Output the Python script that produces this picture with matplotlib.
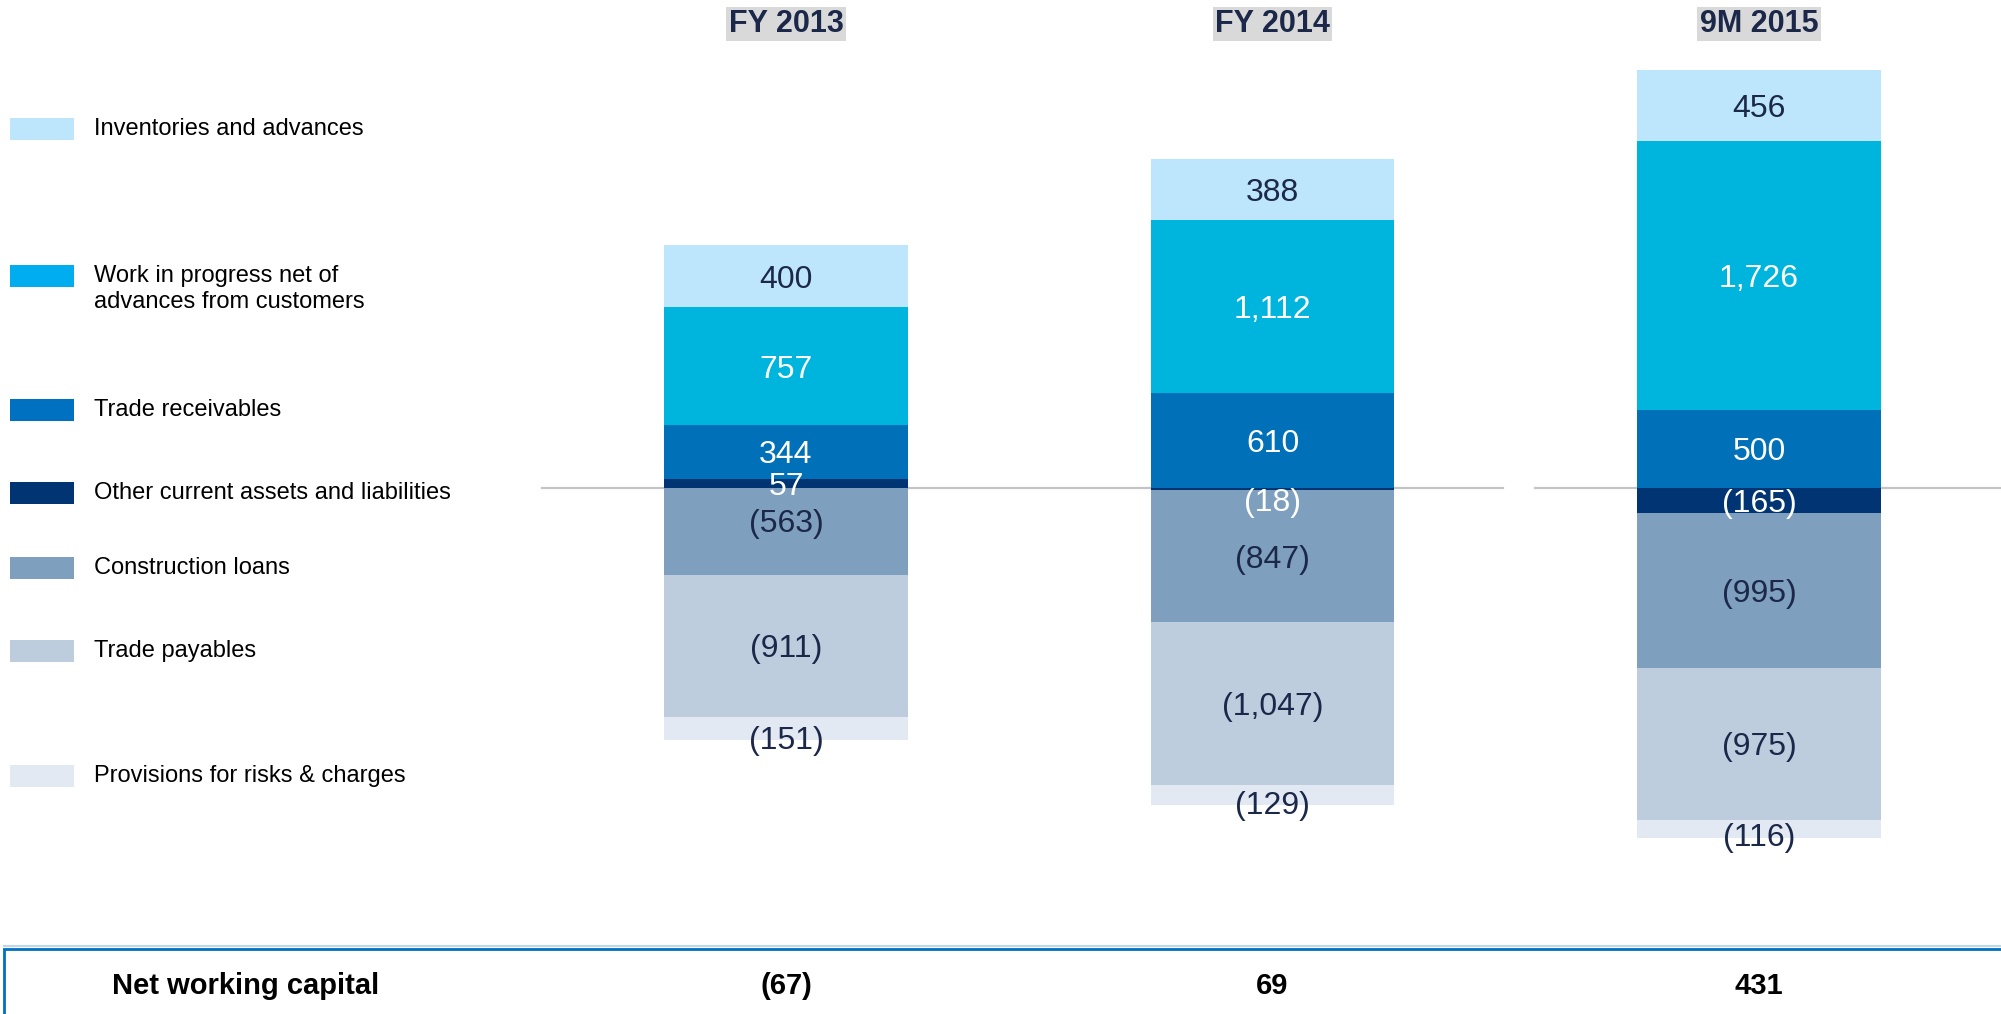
import matplotlib
matplotlib.use("Agg")
import matplotlib.pyplot as plt
from matplotlib.patches import Rectangle

plt.rcParams['font.family'] = ['Liberation Sans', 'DejaVu Sans']

# working capital components, EUR m
periods = ["FY 2013", "FY 2014", "9M 2015"]
inventories = [400, 388, 456]
wip = [757, 1112, 1726]
receivables = [344, 610, 500]
other_current = [57, -18, -165]
construction_loans = [-563, -847, -995]
trade_payables = [-911, -1047, -975]
provisions = [-151, -129, -116]
net_working_capital = [-67, 69, 431]

names = ["Inventories and advances",
         "Work in progress net of\nadvances from customers",
         "Trade receivables",
         "Other current assets and liabilities",
         "Construction loans",
         "Trade payables",
         "Provisions for risks & charges"]
series = [inventories, wip, receivables, other_current,
          construction_loans, trade_payables, provisions]
colors = ["#BDE5FB", "#00B5DD", "#0070B8", "#003473",
          "#7F9FBE", "#BDCDDD", "#E2E9F2"]
legend_colors = ["#BDE5FB", "#00AEEF", "#0070C0", "#003473",
                 "#7F9FBE", "#BDCDDD", "#E2E9F2"]
white_text = [False, True, True, True, False, False, False]
navy = "#1B2849"

W, H = 2001, 1014
fig = plt.figure(figsize=(W / 100, H / 100), dpi=100)
ax = fig.add_axes([0, 0, 1, 1])
ax.set_xlim(-786 / 486.5, (W - 786) / 486.5)
ax.set_ylim(-(H - 487.5) * 6.426, 487.5 * 6.426)
ax.axis('off')


def fx(px):
    return px / W


def fy(py):
    return 1 - py / H


def fmt(v):
    s = f"{abs(v):,}"
    return f"({s})" if v < 0 else s


# zero line, broken between the last two bars
ax.plot([-0.5015, 1.474], [0, 0], color="#C4C4C4", lw=1.6, zorder=1)
ax.plot([1.540, 2.6], [0, 0], color="#C4C4C4", lw=1.6, zorder=1)

# stack from zero outward: other current first, then the rest
order = [3, 2, 1, 0, 4, 5, 6]
x = list(range(len(periods)))
pos_base = [0.0] * len(periods)
neg_base = [0.0] * len(periods)
for k in order:
    vals = series[k]
    for i, v in enumerate(vals):
        if v >= 0:
            bottom = pos_base[i]
            pos_base[i] += v
        else:
            bottom = neg_base[i]
            neg_base[i] += v
        ax.bar(x[i], v, bottom=bottom, width=0.5, color=colors[k],
               edgecolor="none", zorder=2)
        yc = bottom + v / 2
        if k == 6:
            yc = bottom + v + 20
        elif abs(v) < 50 and v < 0:
            yc = bottom - 75
        elif k == 4 and 0 < other_current[i] < 100:
            # make room for the small label sitting on the zero line
            yc += 70
        ax.text(x[i], yc, fmt(v), ha="center", va="center_baseline",
                fontsize=23, color="white" if white_text[k] else navy,
                zorder=3)

# period headers
for i, p in enumerate(periods):
    ax.text(x[i], fy(24), p, transform=ax.get_xaxis_transform(),
            ha="center", va="center", fontsize=22, fontweight="bold",
            color=navy,
            bbox=dict(boxstyle="square,pad=0.08", fc="#D9D9D9", ec="none"))

# legend on the left
legend_y = [129, 276, 410, 493, 568, 651, 776]
for name, c, py in zip(names, legend_colors, legend_y):
    fig.patches.append(Rectangle((fx(10), fy(py + 11)), fx(64), 22 / H,
                                 transform=fig.transFigure, fc=c, ec="none"))
    fig.text(fx(94), fy(py - 11), name, ha="left", va="top", fontsize=17,
             color="black", linespacing=1.25)

# net working capital row
fig.patches.append(Rectangle((fx(4), fy(1030)), fx(2100), 81 / H,
                             transform=fig.transFigure, fc="none",
                             ec="#0070C0", lw=2))
fig.lines.append(plt.Line2D([fx(4), 1], [fy(946), fy(946)],
                            transform=fig.transFigure, color="#BDD7EE", lw=1.5))
fig.text(fx(246), fy(986), "Net working capital", ha="center", va="center",
         fontsize=21, fontweight="bold", color="black")
for i, v in enumerate(net_working_capital):
    ax.text(x[i], fy(986), fmt(v), transform=ax.get_xaxis_transform(),
            ha="center", va="center", fontsize=21, fontweight="bold",
            color="black")

fig.savefig("out.png", dpi=100)
